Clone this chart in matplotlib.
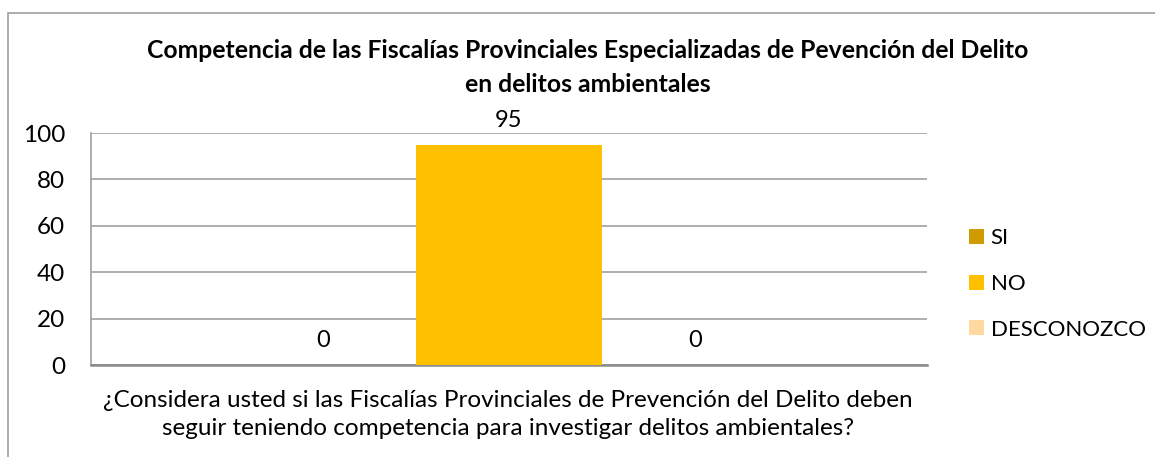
import matplotlib.pyplot as plt
from matplotlib.patches import Rectangle

# datos del gráfico
series = ['SI', 'NO', 'DESCONOZCO']
valores = [0, 95, 0]
colores = ['#CF9B00', '#FFC000', '#FFD9A0']
titulo = ['Competencia de las Fiscalías Provinciales Especializadas de Pevención del Delito',
          'en delitos ambientales']
etiqueta_x = ['¿Considera usted si las Fiscalías Provinciales de Prevención del Delito deben',
              'seguir teniendo competencia para investigar delitos ambientales?']
yticks = [0, 20, 40, 60, 80, 100]

plt.rcParams['font.family'] = ['Lato', 'DejaVu Sans']

W, H = 1155, 457
fig = plt.figure(figsize=(W / 100, H / 100), dpi=100)
ax = fig.add_axes([91 / W, 1 - 365 / H, (927 - 91) / W, (365 - 133) / H])

# borde del gráfico (recortado a la derecha y abajo)
fig.patches.append(Rectangle((8 / W, -0.1), 1.2, 1 - 13 / H + 0.1, transform=fig.transFigure,
                             fill=False, edgecolor='#a0a0a0', linewidth=1.2))

xs = [-1, 0, 1]
barras = ax.bar(xs, valores, width=1.0, color=colores, zorder=3)
for x, v in zip(xs, valores):
    ax.annotate(str(v), (x, v), xytext=(0, 13), textcoords='offset points',
                ha='center', va='baseline', fontsize=17)

ax.set_xlim(-2.25, 2.25)
ax.set_ylim(0, 100)
ax.set_yticks(yticks)
ax.set_xticks([])
ax.tick_params(axis='y', length=0, labelsize=17.5, pad=18.5)
ax.yaxis.grid(True, color='#a0a0a0', linewidth=1.2, zorder=0)
for s in ['top', 'right']:
    ax.spines[s].set_visible(False)
ax.spines['left'].set_color('#a0a0a0')
ax.spines['left'].set_linewidth(1.2)
ax.spines['bottom'].set_color('#8a8a8a')
ax.spines['bottom'].set_linewidth(1.8)

# título
for linea, yb in zip(titulo, [58, 92]):
    fig.text(588 / W, 1 - yb / H, linea, ha='center', va='baseline', fontsize=17.8,
             fontweight='bold')

# etiqueta del eje x
for linea, yb in zip(etiqueta_x, [407, 435]):
    fig.text(508 / W, 1 - yb / H, linea, ha='center', va='baseline', fontsize=17.5)

ax.legend(handles=barras, labels=series, loc='center left',
          bbox_to_anchor=(969 / W, 1 - 284 / H), bbox_transform=fig.transFigure,
          frameon=False, fontsize=16, handlelength=0.68, handleheight=0.68,
          handletextpad=0.3, labelspacing=1.15, borderpad=0, borderaxespad=0)

fig.savefig('out.png', dpi=100)
